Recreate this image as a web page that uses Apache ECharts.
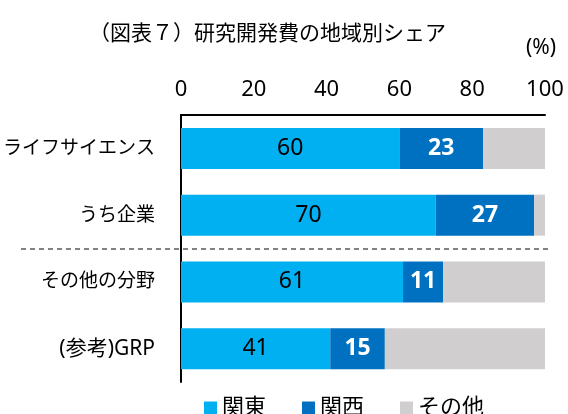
<!DOCTYPE html>
<html lang="ja">
<head>
<meta charset="utf-8">
<title>研究開発費の地域別シェア</title>
<style>
html, body { margin: 0; padding: 0; background: #fff; }
#chart { width: 568px; height: 414px; }
</style>
<script src="https://cdn.jsdelivr.net/npm/echarts@6/dist/echarts.min.js"></script>
</head>
<body>
<div id="chart"></div>
<script>
// data
var categories = ['ライフサイエンス', 'うち企業', 'その他の分野', '(参考)GRP'];
var kanto = [60, 70, 61, 41];
var kansai = [23, 27, 11, 15];
var other = [17, 3, 28, 44];
var seriesNames = ['関東', '関西', 'その他'];

var FONT = "'Noto Sans', 'Noto Sans CJK JP', sans-serif";

var chart = echarts.init(document.getElementById('chart'));

var option = {
  animation: false,
  textStyle: { fontFamily: FONT },
  title: [
    {
      text: '（図表７）研究開発費の地域別シェア',
      left: 84, top: 19,
      textStyle: { fontSize: 21, fontWeight: 'normal', color: '#000', fontFamily: FONT }
    },
    {
      text: '(%)',
      left: 521, top: 33,
      textStyle: { fontSize: 21, fontWeight: 'normal', color: '#000', fontFamily: FONT }
    }
  ],
  legend: {
    data: seriesNames,
    left: 199, top: 392,
    icon: 'rect',
    itemWidth: 13, itemHeight: 13,
    itemGap: 36,
    textStyle: { fontSize: 22, color: '#000', fontFamily: FONT }
  },
  grid: { left: 176, right: 23, top: 115, bottom: 32, containLabel: false },
  xAxis: {
    type: 'value',
    position: 'top',
    min: 0, max: 100, interval: 20,
    axisLine: { show: true, lineStyle: { color: '#000', width: 2 } },
    axisTick: { show: false },
    splitLine: { show: false },
    axisLabel: { fontSize: 22, color: '#000', margin: 14, fontFamily: FONT }
  },
  yAxis: {
    type: 'category',
    data: categories,
    inverse: true,
    axisLine: { show: true, lineStyle: { color: '#000', width: 2 } },
    axisTick: { show: false },
    axisLabel: {
      fontSize: 19, color: '#000', margin: 26, fontFamily: FONT,
      formatter: function (v) {
        return v.indexOf('GRP') >= 0 ? '{big|' + v + '}' : v;
      },
      rich: { big: { fontSize: 21, color: '#000', fontFamily: FONT } }
    }
  },
  series: [
    {
      name: seriesNames[0], type: 'bar', stack: 'total', data: kanto,
      barWidth: 41,
      itemStyle: { color: '#00B0F0' },
      label: { show: true, position: 'inside', color: '#000', fontSize: 23, fontFamily: FONT }
    },
    {
      name: seriesNames[1], type: 'bar', stack: 'total', data: kansai,
      barWidth: 41,
      itemStyle: { color: '#0070C0' },
      label: { show: true, position: 'inside', color: '#fff', fontSize: 23, fontWeight: 'bold', fontFamily: FONT }
    },
    {
      name: seriesNames[2], type: 'bar', stack: 'total', data: other,
      barWidth: 41,
      itemStyle: { color: '#D0CECE' }
    }
  ]
};

chart.setOption(option);

// dashed separator between the 2nd and 3rd rows
var y1 = chart.convertToPixel({ yAxisIndex: 0 }, categories[1]);
var y2 = chart.convertToPixel({ yAxisIndex: 0 }, categories[2]);
var xRight = chart.convertToPixel({ xAxisIndex: 0 }, 100);
var ySep = Math.round((y1 + y2) / 2);
chart.setOption({
  graphic: [{
    type: 'line',
    shape: { x1: 21, y1: ySep, x2: xRight + 4, y2: ySep },
    style: { stroke: '#595959', lineWidth: 1.5, lineDash: [5, 4] },
    z: 10
  }]
});
</script>
</body>
</html>
